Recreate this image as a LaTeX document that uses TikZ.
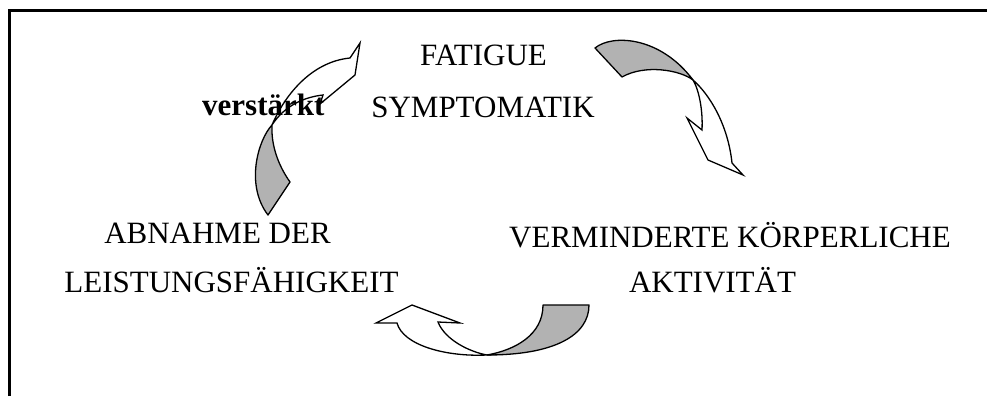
\documentclass[tikz,border=0pt]{standalone}
\usepackage{fontspec}
\setmainfont{Liberation Serif}
\begin{document}
\begin{tikzpicture}[x=1pt,y=-1pt,
  lbl/.style={font=\fontsize{31}{36}\selectfont, inner sep=0pt, anchor=base},
  backside/.style={fill=black!30, draw=black, line width=1.3pt, line join=round},
  frontside/.style={fill=white, draw=black, line width=1.3pt, line join=miter}]
\useasboundingbox (0,0) rectangle (987,396);
\fill[white] (0,0) rectangle (987,396);
\draw[line width=3.5pt] (9.5,396) |- (987,10.5);

% arrow 1: FATIGUE -> VERMINDERTE
\draw[backside] (595,48) .. controls (612,34) and (660,36) .. (693,80)
   .. controls (680,70) and (645,64) .. (622,77) -- cycle;
\draw[frontside] (693,80) .. controls (710,95) and (728,125) .. (732,163)
   -- (743,175) -- (708,160) -- (687,118) -- (702,130)
   .. controls (703,110) and (699,90) .. (693,80) -- cycle;

% arrow 2: VERMINDERTE -> ABNAHME
\draw[backside] (543,305) -- (589,305) .. controls (589,335) and (555,355) .. (487,355)
   .. controls (515,350) and (543,335) .. (543,305) -- cycle;
\draw[frontside] (487,355) .. controls (445,357) and (403,345) .. (397,323)
   -- (376,323) -- (412,305) -- (460,323) -- (438,322)
   .. controls (445,340) and (470,352) .. (487,355) -- cycle;

% arrow 3: ABNAHME -> FATIGUE
\draw[backside] (272,125) .. controls (258,140) and (245,185) .. (268,215)
   -- (290,182) .. controls (278,165) and (271,145) .. (272,125) -- cycle;
\draw[frontside] (272,125) .. controls (284,97) and (310,62) .. (350,58)
   -- (360,43) -- (355,75) -- (320,104) -- (323,95)
   .. controls (305,97) and (285,105) .. (272,125) -- cycle;

\node[lbl] (fatigue) at (483.5,65) {FATIGUE};
\node[lbl] (symp) at (483,117) {SYMPTOMATIK};
\node[lbl, anchor=base west, font=\fontsize{31}{36}\selectfont\bfseries] (verst) at (202,115) {verstärkt};
\node[lbl] (abn1) at (217.5,243) {ABNAHME DER};
\node[lbl] (abn2) at (231.5,292) {LEISTUNGSFÄHIGKEIT};
\node[lbl] (verm1) at (730,247) {VERMINDERTE KÖRPERLICHE};
\node[lbl] (verm2) at (712.5,292) {AKTIVITÄT};
\end{tikzpicture}
\end{document}
